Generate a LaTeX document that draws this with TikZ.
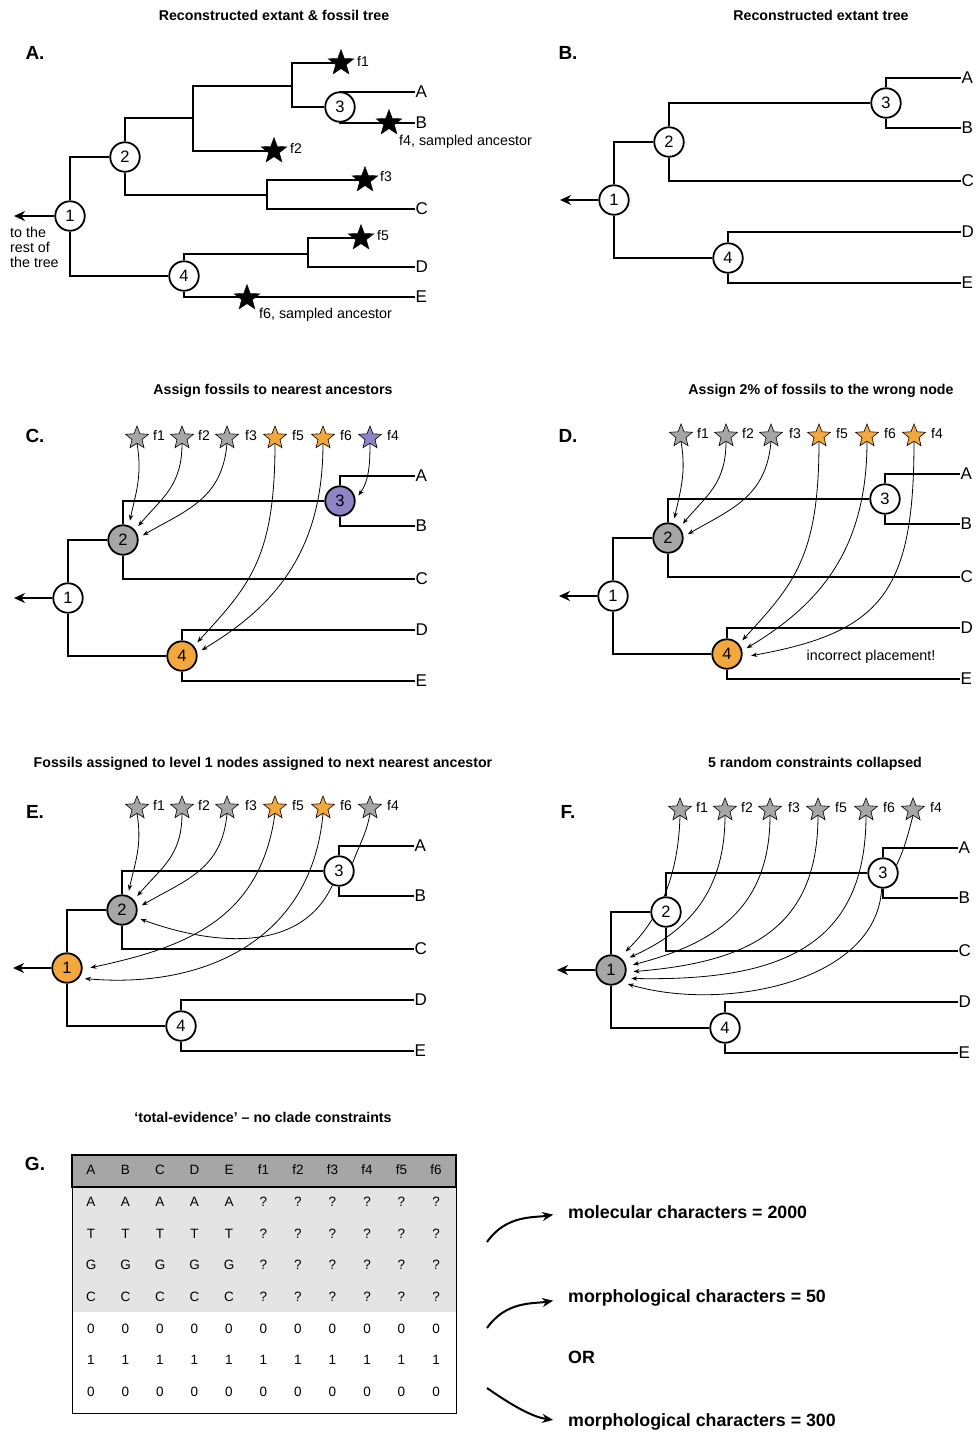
\documentclass[tikz,border=0pt]{standalone}
\usepackage{fontspec}
\setmainfont{Liberation Sans}
\usetikzlibrary{shapes.geometric,arrows.meta,calc}
\pgfdeclarelayer{paper}
\pgfdeclarelayer{lines}
\pgfsetlayers{paper,lines,main}

\definecolor{fossilgrey}{RGB}{166,166,166}
\definecolor{fossilorange}{RGB}{242,168,60}
\definecolor{fossilpurple}{RGB}{143,133,196}
\definecolor{headgrey}{RGB}{166,166,166}
\definecolor{bodygrey}{RGB}{228,228,228}

\tikzset{
  branch/.style={line width=2pt},
  treenode/.style={circle, draw, line width=1.8pt, fill=white, minimum size=29.5pt, inner sep=0pt, font=\fontsize{16.5}{16.5}\selectfont},
  leaf/.style={anchor=west, inner sep=0.5pt, font=\fontsize{17}{17}\selectfont},
  rootarrow/.style={line width=2pt, -{Stealth[length=11pt,width=10pt]}},
  assign/.style={line width=0.8pt, -{Stealth[length=6pt,width=4.5pt]}, shorten >=5pt},
  plainlink/.style={line width=0.8pt},
  bigstar/.style={star, star points=5, star point ratio=2.4, fill=black, draw=black, minimum size=27pt, inner sep=0pt},
  smallstar/.style={star, star points=5, star point ratio=2.3, draw=black, line width=0.6pt, minimum size=24pt, inner sep=0pt},
  flab/.style={anchor=west, inner sep=0pt, font=\fontsize{14}{14}\selectfont},
  title/.style={font=\bfseries\fontsize{14.2}{16}\selectfont},
  panel/.style={font=\bfseries\fontsize{19}{20}\selectfont},
  note/.style={font=\fontsize{14.3}{16}\selectfont},
  cell/.style={font=\fontsize{13.5}{13.5}\selectfont, inner sep=0pt},
  bigtext/.style={anchor=west, inner sep=0pt, font=\bfseries\fontsize{17.8}{20}\selectfont},
  chararrow/.style={line width=2pt, -{Stealth[length=11pt,width=9pt]}},
}

% extant tree: prefix, x, y of node 1, fills of nodes 1..4
\newcommand{\extanttree}[7]{%
\begin{scope}[shift={(#2,#3)}]
  \node[treenode,fill=#4] (#1-1) at (0,0) {1};
  \node[treenode,fill=#5] (#1-2) at (55,-58) {2};
  \node[treenode,fill=#6] (#1-3) at (272,-97) {3};
  \node[treenode,fill=#7] (#1-4) at (114,58) {4};
  \node[leaf] (#1-A) at (347,-122) {A};
  \node[leaf] (#1-B) at (347,-72) {B};
  \node[leaf] (#1-C) at (347,-19) {C};
  \node[leaf] (#1-D) at (347,32) {D};
  \node[leaf] (#1-E) at (347,83) {E};
  \coordinate (#1-root) at (-54,0);
  \begin{pgfonlayer}{lines}
    \draw[branch] (#1-1) |- (#1-2);
    \draw[branch] (#1-1) |- (#1-4);
    \draw[branch] (#1-2) |- (#1-3);
    \draw[branch] (#1-2) |- (#1-C);
    \draw[branch] (#1-3) |- (#1-A);
    \draw[branch] (#1-3) |- (#1-B);
    \draw[branch] (#1-4) |- (#1-D);
    \draw[branch] (#1-4) |- (#1-E);
    \draw[rootarrow] (#1-1) -- (#1-root);
  \end{pgfonlayer}
\end{scope}}

% row of fossil stars: prefix, x, y of first star, fills of f1 f2 f3 f5 f6 f4
\newcommand{\fossilrow}[9]{%
\begin{scope}[shift={(#2,#3)}]
  \node[smallstar,fill=#4] (#1-f1) at (0,0) {};
  \node[smallstar,fill=#5] (#1-f2) at (45,0) {};
  \node[smallstar,fill=#6] (#1-f3) at (90,0) {};
  \node[smallstar,fill=#7] (#1-f5) at (138,0) {};
  \node[smallstar,fill=#8] (#1-f6) at (186,0) {};
  \node[smallstar,fill=#9] (#1-f4) at (233,0) {};
  \node[flab] (#1-l1) at (16,-3) {f1};
  \node[flab] (#1-l2) at (61,-3) {f2};
  \node[flab] (#1-l3) at (108,-3) {f3};
  \node[flab] (#1-l5) at (155,-3) {f5};
  \node[flab] (#1-l6) at (203,-3) {f6};
  \node[flab] (#1-l4) at (250,-3) {f4};
\end{scope}}

\begin{document}
\begin{tikzpicture}[x=1pt,y=-1pt]
\useasboundingbox (0,0) rectangle (976,1433);
\begin{pgfonlayer}{paper}
  \fill[white] (0,0) rectangle (976,1433);
\end{pgfonlayer}

% ---------------- titles and panel letters
\node[title] (t-a) at (274,15) {Reconstructed extant \& fossil tree};
\node[title] (t-b) at (821,15) {Reconstructed extant tree};
\node[title] (t-c) at (273,391) {Assign fossils to nearest ancestors};
\node[title] (t-d) at (821,391) {Assign 2\% of fossils to the wrong node};
\node[title] (t-e) at (263,764) {Fossils assigned to level 1 nodes assigned to next nearest ancestor};
\node[title] (t-f) at (815,764) {5 random constraints collapsed};
\node[title] (t-g) at (263,1117) {`total-evidence' -- no clade constraints};

\node[panel] (p-a) at (35,53) {A.};
\node[panel] (p-b) at (568,53) {B.};
\node[panel] (p-c) at (35,436) {C.};
\node[panel] (p-d) at (568,436) {D.};
\node[panel] (p-e) at (35,812) {E.};
\node[panel] (p-f) at (568,812) {F.};
\node[panel] (p-g) at (35,1164) {G.};

% ---------------- A: extant and fossil tree
\node[treenode] (a-1) at (70,216) {1};
\node[treenode] (a-2) at (125,157) {2};
\node[treenode] (a-3) at (340,107) {3};
\node[treenode] (a-4) at (184,276) {4};
\coordinate (a-i1) at (193,118);
\coordinate (a-i2) at (292,86);
\coordinate (a-i3) at (267,195);
\coordinate (a-i4) at (308,254);
\coordinate (a-root) at (14,216);
\node[leaf] (a-A) at (415,92) {A};
\node[leaf] (a-B) at (415,123) {B};
\node[leaf] (a-C) at (415,209) {C};
\node[leaf] (a-D) at (415,267) {D};
\node[leaf] (a-E) at (415,297) {E};
\node[bigstar] (a-f1) at (341,63) {};
\node[bigstar] (a-f2) at (274,151) {};
\node[bigstar] (a-f3) at (365,180) {};
\node[bigstar] (a-f4) at (389,123) {};
\node[bigstar] (a-f5) at (361,238) {};
\node[bigstar] (a-f6) at (247,298) {};
\node[flab] (a-l1) at (357,61) {f1};
\node[flab] (a-l2) at (290,148) {f2};
\node[flab] (a-l3) at (380,176) {f3};
\node[flab] (a-l5) at (377,235) {f5};
\node[flab,font=\fontsize{14.3}{16}\selectfont] (a-l4) at (399,142) {f4, sampled ancestor};
\node[flab,font=\fontsize{14.3}{16}\selectfont] (a-l6) at (259,315) {f6, sampled ancestor};
\node[note,anchor=north west,align=left,inner sep=0pt] (a-rest) at (10,226.5) {to the\\[-1pt]rest of\\[-1pt]the tree};
\begin{pgfonlayer}{lines}
  \draw[branch] (a-1) |- (a-2);
  \draw[branch] (a-1) |- (a-4);
  \draw[branch] (a-2) |- (a-i1);
  \draw[branch] (a-f2.center) -| (a-i1) |- (a-i2);
  \draw[branch] (a-f1.center) -| (a-i2) |- (a-3);
  \draw[branch] (a-3) |- (a-A);
  \draw[branch] (a-3) |- (a-B);
  \draw[branch] (a-2) |- (a-i3);
  \draw[branch] (a-f3.center) -| (a-i3) |- (a-C);
  \draw[branch] (a-4) |- (a-i4);
  \draw[branch] (a-f5.center) -| (a-i4) |- (a-D);
  \draw[branch] (a-4) |- (a-E);
  \draw[rootarrow] (a-1) -- (a-root);
\end{pgfonlayer}

% ---------------- B: extant tree
\extanttree{b}{614}{200}{white}{white}{white}{white}

% ---------------- C: nearest ancestors
\extanttree{c}{68}{598}{white}{fossilgrey}{fossilpurple}{fossilorange}
\fossilrow{c}{137}{438}{fossilgrey}{fossilgrey}{fossilgrey}{fossilorange}{fossilorange}{fossilpurple}
\begin{pgfonlayer}{lines}
  \draw[assign] (c-f1.south) to[out=-80,in=78] (c-2.68);
  \draw[assign] (c-f2.south) to[out=-90,in=50,looseness=1.1] (c-2.40);
  \draw[assign] (c-f3.south) to[out=-95,in=30,looseness=1.1] (c-2.8);
  \draw[assign] (c-f5.south) .. controls +(0,115) and +(55,-60) .. (c-4.40);
  \draw[assign] (c-f6.south) .. controls +(0,110) and +(75,-45) .. (c-4.12);
  \draw[assign] (c-f4.south) to[out=-90,in=55] (c-3.5);
\end{pgfonlayer}

% ---------------- D: wrong node
\extanttree{d}{613}{596}{white}{fossilgrey}{white}{fossilorange}
\fossilrow{d}{681}{436}{fossilgrey}{fossilgrey}{fossilgrey}{fossilorange}{fossilorange}{fossilorange}
\node[note] (d-wrong) at (871,657) {incorrect placement!};
\begin{pgfonlayer}{lines}
  \draw[assign] (d-f1.south) to[out=-80,in=78] (d-2.70);
  \draw[assign] (d-f2.south) to[out=-90,in=50,looseness=1.1] (d-2.42);
  \draw[assign] (d-f3.south) to[out=-95,in=30,looseness=1.1] (d-2.5);
  \draw[assign] (d-f5.south) .. controls +(0,115) and +(55,-60) .. (d-4.40);
  \draw[assign] (d-f6.south) .. controls +(0,110) and +(75,-45) .. (d-4.12);
  \draw[assign,shorten >=9pt] (d-f4.south) .. controls +(0,150) and +(140,-25) .. (d-4.-12);
\end{pgfonlayer}

% ---------------- E: next nearest ancestor
\extanttree{e}{67}{968}{fossilorange}{fossilgrey}{white}{white}
\fossilrow{e}{137}{808}{fossilgrey}{fossilgrey}{fossilgrey}{fossilorange}{fossilorange}{fossilgrey}
\begin{pgfonlayer}{lines}
  \draw[assign] (e-f1.south) to[out=-80,in=78] (e-2.68);
  \draw[assign] (e-f2.south) to[out=-90,in=50,looseness=1.1] (e-2.40);
  \draw[assign] (e-f3.south) to[out=-95,in=30,looseness=1.1] (e-2.8);
  \draw[plainlink] (e-f4.south) to[out=-100,in=70] (e-3.30);
  \draw[assign] (e-3.-115) to[out=-115,in=-20] (e-2.-28);
  \draw[assign,shorten >=8pt] (e-f5.south) to[out=-98,in=12,looseness=1.1] (e-1.-5);
  \draw[assign,shorten >=6pt] (e-f6.south) to[out=-95,in=-5,looseness=1.1] (e-1.-40);
\end{pgfonlayer}

% ---------------- F: collapsed constraints
\extanttree{f}{611}{970}{fossilgrey}{white}{white}{white}
\fossilrow{f}{680}{810}{fossilgrey}{fossilgrey}{fossilgrey}{fossilgrey}{fossilgrey}{fossilgrey}
\begin{pgfonlayer}{lines}
  \draw[assign,shorten >=8pt] (f-f1.south) .. controls +(-2,80) and +(25,-25) .. (f-1.55);
  \draw[assign,shorten >=7pt] (f-f2.south) .. controls +(0,85) and +(55,-25) .. (f-1.38);
  \draw[assign,shorten >=7pt] (f-f3.south) .. controls +(0,95) and +(85,-22) .. (f-1.13);
  \draw[assign,shorten >=7pt] (f-f5.south) .. controls +(0,115) and +(120,-10) .. (f-1.-8);
  \draw[assign,shorten >=7pt] (f-f6.south) .. controls +(0,135) and +(150,3) .. (f-1.-32);
  \draw[plainlink] (f-f4.south) to[out=-105,in=65] (f-3.30);
  \draw[assign,shorten >=7pt] (f-3.-95) .. controls +(-5,95) and +(100,30) .. (f-1.-50);
\end{pgfonlayer}

% ---------------- G: total-evidence matrix
\fill[bodygrey] (72,1187) rectangle (456,1312);
\draw[line width=1pt] (72,1155) rectangle (456,1413);
\draw[fill=headgrey,line width=1.6pt] (72,1155) rectangle (456,1187);
\foreach \txt [count=\i from 0] in {A,B,C,D,E,f1,f2,f3,f4,f5,f6}
  \node[cell] (g-h-\i) at (91+34.5*\i,1170) {\txt};
\foreach \s [count=\r] in {A,T,G,C}{
  \foreach \i in {0,...,4}
    \node[cell] (g-\r-\i) at (91+34.5*\i,1170+31.7*\r) {\s};
  \foreach \i in {5,...,10}
    \node[cell] (g-\r-\i) at (91+34.5*\i,1170+31.7*\r) {?};
}
\foreach \s [count=\r from 5] in {0,1,0}{
  \foreach \i in {0,...,10}
    \node[cell] (g-\r-\i) at (91+34.5*\i,1170+31.7*\r) {\s};
}

\node[bigtext] (g-t1) at (568,1212) {molecular characters = 2000};
\node[bigtext] (g-t2) at (568,1298) {morphological characters = 50};
\node[bigtext] (g-or) at (568,1357) {OR};
\node[bigtext] (g-t3) at (568,1422) {morphological characters = 300};
\coordinate (g-s1) at (487,1242);
\coordinate (g-s2) at (487,1328);
\coordinate (g-s3) at (487,1388);
\draw[chararrow,shorten >=15pt] (g-s1) to[out=55,in=190] (g-t1.west);
\draw[chararrow,shorten >=15pt] (g-s2) to[out=55,in=190] (g-t2.west);
\draw[chararrow,shorten >=15pt] (g-s3) to[out=-35,in=172] (g-t3.west);
\end{tikzpicture}
\end{document}
